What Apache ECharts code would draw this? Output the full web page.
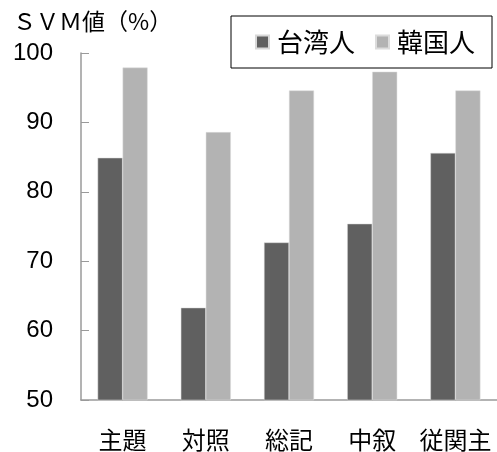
<!DOCTYPE html>
<html>
<head>
<meta charset="utf-8">
<script src="https://cdn.jsdelivr.net/npm/echarts@6/dist/echarts.min.js"></script>
<style>
  html, body { margin: 0; padding: 0; background: #fff; }
  #chart { width: 497px; height: 452px; }
</style>
</head>
<body>
<div id="chart"></div>
<script>
// Categories and SVM accuracy (%) per group
const categories = ['主題', '対照', '総記', '中叙', '従関主'];
const taiwanese = [84.9, 63.3, 72.7, 75.4, 85.6];
const korean = [97.9, 88.6, 94.6, 97.3, 94.6];
const seriesNames = ['台湾人', '韓国人'];

const cjk = '"Noto Sans CJK JP", "Noto Sans CJK SC", sans-serif';
const latin = '"Liberation Sans", Arial, sans-serif';

const chart = echarts.init(document.getElementById('chart'), null, { renderer: 'canvas' });
chart.setOption({
  animation: false,
  backgroundColor: '#ffffff',
  title: {
    text: 'ＳＶＭ値（%）',
    left: 8,
    top: 5,
    textStyle: { fontFamily: cjk, fontSize: 23, fontWeight: 'normal', color: '#000' }
  },
  legend: {
    data: seriesNames,
    orient: 'horizontal',
    left: 231,
    top: 16,
    width: 240,
    padding: [13, 17, 13, 24],
    itemGap: 20,
    itemWidth: 13,
    itemHeight: 13,
    borderColor: '#000',
    borderWidth: 1,
    backgroundColor: '#fff',
    icon: 'rect',
    textStyle: { fontFamily: cjk, fontSize: 26, color: '#000', padding: [0, 0, 0, 3] }
  },
  grid: { left: 81, top: 53, bottom: 50, width: 427.5, containLabel: false },
  xAxis: {
    type: 'category',
    data: categories,
    axisLine: { lineStyle: { color: '#9a9a9a', width: 1.5 } },
    axisTick: { inside: true, length: 4, lineStyle: { color: '#9a9a9a' } },
    axisLabel: { interval: 0, fontFamily: cjk, fontSize: 24, color: '#000', margin: 28 }
  },
  yAxis: {
    type: 'value',
    min: 50,
    max: 100,
    interval: 10,
    splitLine: { show: false },
    axisLine: { show: true, lineStyle: { color: '#9a9a9a', width: 1.5 } },
    axisTick: { show: true, inside: true, length: 8, lineStyle: { color: '#9a9a9a' } },
    axisLabel: { fontFamily: latin, fontSize: 24, color: '#000', margin: 28 }
  },
  series: [
    {
      name: seriesNames[0],
      type: 'bar',
      data: taiwanese,
      barWidth: 25,
      barGap: '0%',
      itemStyle: { color: '#606060', borderColor: '#d8d8d8', borderWidth: 0.5 }
    },
    {
      name: seriesNames[1],
      type: 'bar',
      data: korean,
      barWidth: 25,
      itemStyle: { color: '#b3b3b3', borderColor: '#dcdcdc', borderWidth: 0.5 }
    }
  ]
});
</script>
</body>
</html>
